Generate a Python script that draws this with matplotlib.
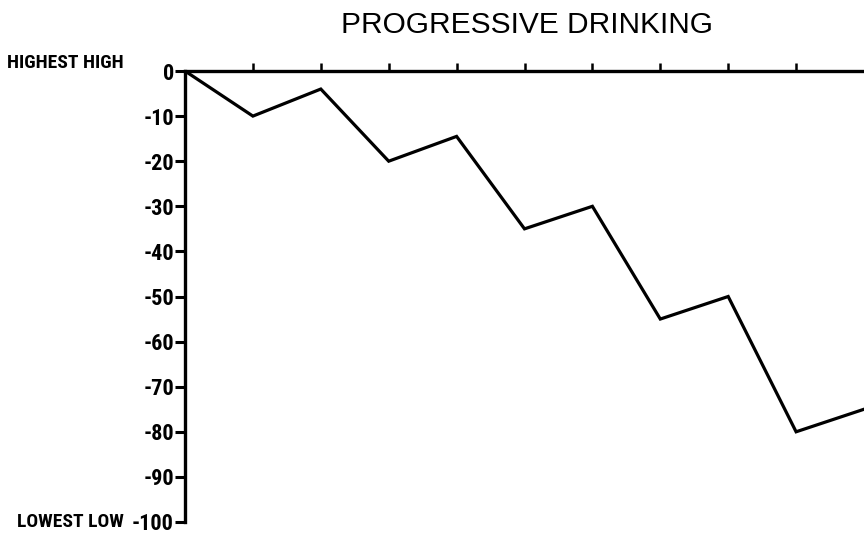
import matplotlib
matplotlib.use('Agg')
import matplotlib.pyplot as plt

# drinking "high" over time
stages = [0, 1, 2, 3, 4, 5, 6, 7, 8, 9, 10]
high_level = [0, -10, -4, -20, -14.5, -35, -30, -55, -50, -80, -75]
y_ticks = [0, -10, -20, -30, -40, -50, -60, -70, -80, -90, -100]
y_labels = ['0', '-10', '-20', '-30', '-40', '-50', '-60', '-70', '-80', '-90', '-100']

narrow = ['Roboto Condensed', 'DejaVu Sans']

fig = plt.figure(figsize=(8.64, 5.35), dpi=100)
ax = fig.add_axes([185 / 864, 13 / 535, (864 - 185) / 864, 451 / 535])

ax.plot(stages, high_level, color='black', lw=2.3, solid_joinstyle='miter')

ax.set_xlim(0, 10)
ax.set_ylim(-100, 0)

for side in ['right', 'bottom']:
    ax.spines[side].set_visible(False)
for side in ['left', 'top']:
    ax.spines[side].set_linewidth(2.4)

ax.xaxis.set_ticks_position('top')
ax.set_xticks(stages[1:-1])
ax.tick_params(axis='x', direction='out', length=6, width=1.8, labeltop=False)

ax.set_yticks(y_ticks)
ax.set_yticklabels(y_labels, family=narrow, fontweight='bold', fontsize=16)
ax.tick_params(axis='y', direction='out', length=7, width=2.2, pad=1)

fig.text(0.61, 1 - 25 / 535, 'PROGRESSIVE DRINKING', ha='center', va='center',
         family=['Liberation Sans', 'DejaVu Sans'], fontsize=21.5)
fig.text(124 / 864, 1 - 63 / 535, 'HIGHEST HIGH', ha='right', va='center',
         family=narrow, fontweight='bold', fontsize=14)
fig.text(124 / 864, 1 - 522 / 535, 'LOWEST LOW', ha='right', va='center',
         family=narrow, fontweight='bold', fontsize=14)

fig.savefig('out.png', dpi=100)
